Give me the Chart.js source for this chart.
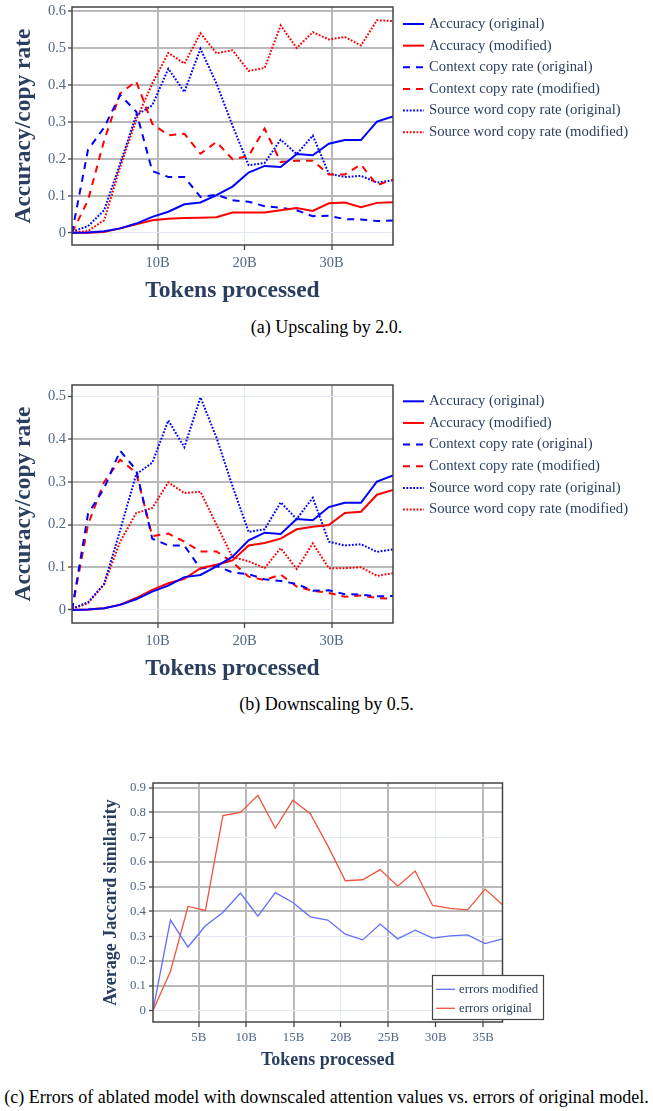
<!DOCTYPE html>
<html>
<head>
<meta charset="utf-8">
<script src="https://cdn.jsdelivr.net/npm/chart.js@4.4.0/dist/chart.umd.min.js"></script>
<style>
  body { margin: 0; background: #fff; }
  #page { position: relative; width: 653px; height: 1111px; font-family: 'Liberation Serif', 'Times New Roman', serif; }
  canvas { position: absolute; left: 0; }
  .cap { position: absolute; left: 0; width: 653px; text-align: center; font-size: 18px; line-height: 20px; color: #000; }
</style>
</head>
<body>
<div id="page">
  <canvas id="up" width="653" height="310" style="top:0px"></canvas>
  <div class="cap" style="top:317px">(a) Upscaling by 2.0.</div>
  <canvas id="down" width="653" height="310" style="top:378px"></canvas>
  <div class="cap" style="top:694px">(b) Downscaling by 0.5.</div>
  <canvas id="jac" width="653" height="305" style="top:770px"></canvas>
  <div class="cap" style="top:1087px">(c) Errors of ablated model with downscaled attention values vs. errors of original model.</div>
</div>
<script>
// checkpoints, in billions of tokens
const tokensB = [0.18, 2.02, 3.87, 5.71, 7.55, 9.40, 11.24, 13.08, 14.93, 16.77, 18.61,
                 20.46, 22.30, 24.14, 25.98, 27.83, 29.67, 31.51, 33.36, 35.20, 37.04];

// original model (same in (a) and (b))
const accOrig = [0, 0.001, 0.004, 0.012, 0.025, 0.043, 0.057, 0.077, 0.082, 0.102, 0.125,
                 0.163, 0.181, 0.178, 0.213, 0.21, 0.241, 0.251, 0.251, 0.301, 0.315];
const ctxOrig = [0, 0.225, 0.285, 0.373, 0.328, 0.167, 0.151, 0.151, 0.097, 0.103, 0.088,
                 0.084, 0.072, 0.068, 0.061, 0.045, 0.046, 0.037, 0.036, 0.032, 0.033];
const srcOrig = [0.003, 0.018, 0.061, 0.187, 0.318, 0.345, 0.444, 0.381, 0.498, 0.404, 0.29,
                 0.183, 0.189, 0.252, 0.213, 0.263, 0.16, 0.151, 0.154, 0.136, 0.142];

// (a) upscaling by 2.0
const accUp = [0, 0, 0.002, 0.012, 0.023, 0.034, 0.038, 0.04, 0.041, 0.042, 0.055,
               0.055, 0.055, 0.061, 0.067, 0.059, 0.08, 0.082, 0.069, 0.081, 0.083];
const ctxUp = [0, 0.088, 0.25, 0.377, 0.41, 0.295, 0.264, 0.268, 0.214, 0.246, 0.199,
               0.208, 0.282, 0.192, 0.195, 0.195, 0.158, 0.158, 0.185, 0.129, 0.144];
const srcUp = [0, 0.005, 0.034, 0.178, 0.305, 0.404, 0.487, 0.458, 0.54, 0.486, 0.494,
               0.438, 0.446, 0.561, 0.5, 0.543, 0.523, 0.53, 0.507, 0.575, 0.573];

// (b) downscaling by 0.5
const accDown = [0, 0.001, 0.004, 0.0125, 0.028, 0.047, 0.0625, 0.073, 0.098, 0.106, 0.116,
                 0.151, 0.157, 0.167, 0.189, 0.195, 0.199, 0.227, 0.23, 0.27, 0.281];
const ctxDown = [0, 0.2, 0.3, 0.352, 0.321, 0.173, 0.179, 0.16, 0.137, 0.137, 0.112,
                 0.078, 0.07, 0.083, 0.055, 0.045, 0.04, 0.031, 0.034, 0.028, 0.026];
const srcDown = [0.002, 0.016, 0.06, 0.16, 0.227, 0.239, 0.299, 0.274, 0.277, 0.2, 0.124,
                 0.114, 0.098, 0.145, 0.096, 0.156, 0.098, 0.098, 0.1, 0.08, 0.086];

// (c) average Jaccard similarity
const errModified = [0, 0.365, 0.256, 0.342, 0.396, 0.474, 0.381, 0.476, 0.436, 0.378, 0.365,
                     0.308, 0.285, 0.349, 0.289, 0.324, 0.292, 0.301, 0.305, 0.27, 0.289];
const errOriginal = [0, 0.157, 0.42, 0.404, 0.787, 0.8, 0.869, 0.736, 0.849, 0.795, 0.666,
                     0.524, 0.528, 0.569, 0.502, 0.563, 0.424, 0.412, 0.406, 0.49, 0.427];

// tick labels
const xTicksAB = [10, 20, 30];
const xTicksC = [5, 10, 15, 20, 25, 30, 35];
const yTicksA = [0, 0.1, 0.2, 0.3, 0.4, 0.5, 0.6];
const yTicksB = [0, 0.1, 0.2, 0.3, 0.4, 0.5];
const yTicksC = [0, 0.1, 0.2, 0.3, 0.4, 0.5, 0.6, 0.7, 0.8, 0.9];

const GRID_GRAY = '#b9b9b9';
const GRID_LIGHT = '#e3e9f2';
const DASH = [7, 6];
const DOT = [1.8, 1.6];

Chart.defaults.font.family = "'Liberation Serif', 'Times New Roman', serif";

function pts(ys) {
  return ys.map((y, i) => ({x: tokensB[i], y: y}));
}

const plotFrame = {
  id: 'plotFrame',
  afterDraw(chart) {
    const {ctx, chartArea: a} = chart;
    ctx.save();
    ctx.strokeStyle = '#444';
    ctx.lineWidth = 1.5;
    ctx.strokeRect(a.left, a.top, a.right - a.left, a.bottom - a.top);
    ctx.restore();
  }
};

const lineKey = {
  id: 'lineKey',
  afterDraw(chart, args, o) {
    const ctx = chart.ctx;
    ctx.save();
    if (o.box) {
      const b = o.box;
      ctx.fillStyle = '#fff';
      ctx.fillRect(b.x, b.y, b.w, b.h);
      ctx.strokeStyle = '#444';
      ctx.lineWidth = 1.2;
      ctx.strokeRect(b.x, b.y, b.w, b.h);
    }
    ctx.font = o.fontSize + "px 'Liberation Serif', 'Times New Roman', serif";
    ctx.textBaseline = 'middle';
    chart.data.datasets.forEach((ds, i) => {
      const y = o.y + i * o.rowH;
      ctx.strokeStyle = ds.borderColor;
      ctx.lineWidth = ds.borderWidth;
      ctx.setLineDash(ds.borderDash || []);
      ctx.beginPath();
      ctx.moveTo(o.x0, y);
      ctx.lineTo(o.x1, y);
      ctx.stroke();
      ctx.setLineDash([]);
      ctx.fillStyle = '#2a3f5f';
      ctx.fillText(ds.label, o.textX, y);
    });
    ctx.restore();
  }
};

function makeChart(id, cfg) {
  const gridColor = light => c => (c.tick && light.includes(c.tick.value)) ? GRID_LIGHT : GRID_GRAY;
  const gridWidth = light => c => (c.tick && light.includes(c.tick.value)) ? 1 : 2;
  return new Chart(document.getElementById(id), {
    type: 'line',
    data: {
      datasets: cfg.series.map(s => ({
        label: s.label,
        data: pts(s.values),
        borderColor: s.color,
        borderWidth: cfg.lineWidth,
        borderDash: s.dash || [],
        pointRadius: 0,
        tension: 0,
        fill: false
      }))
    },
    options: {
      responsive: false,
      animation: false,
      events: [],
      layout: { padding: { top: cfg.area.top, right: 653 - cfg.area.right, left: 0, bottom: 0 } },
      plugins: { legend: { display: false }, tooltip: { enabled: false }, lineKey: cfg.key },
      scales: {
        x: {
          type: 'linear',
          bounds: 'data',
          min: tokensB[0],
          max: tokensB[tokensB.length - 1],
          afterBuildTicks: s => { s.ticks = cfg.xTicks.map(v => ({value: v})); },
          afterFit: s => { s.height = cfg.height - cfg.area.bottom; s.paddingLeft = 0; s.paddingRight = 0; },
          border: { display: false },
          grid: { color: gridColor(cfg.xLight), lineWidth: gridWidth(cfg.xLight), tickColor: '#444', tickLength: 5, tickWidth: 1.3 },
          ticks: { callback: v => v + 'B', color: '#506784', font: { size: cfg.tickSize }, padding: cfg.xTickPad, autoSkip: false, maxRotation: 0 },
          title: { display: true, text: 'Tokens processed', color: '#2a3f5f', font: { size: cfg.titleSize, weight: 'bold' }, padding: { top: 0, bottom: cfg.xTitlePad } }
        },
        y: {
          type: 'linear',
          bounds: 'data',
          min: cfg.yRange[0],
          max: cfg.yRange[1],
          afterBuildTicks: s => { s.ticks = cfg.yTicks.map(v => ({value: v})); },
          afterFit: s => { s.width = cfg.area.left; s.paddingTop = 0; s.paddingBottom = 0; },
          border: { display: false },
          grid: { color: gridColor(cfg.yLight), lineWidth: gridWidth(cfg.yLight), tickColor: '#444', tickLength: 4, tickWidth: 1.3 },
          ticks: { callback: v => v === 0 ? '0' : String(Math.round(v * 10) / 10), color: '#506784', font: { size: cfg.tickSize }, padding: cfg.yTickPad, autoSkip: false },
          title: { display: true, text: cfg.yTitle, color: '#2a3f5f', font: { size: cfg.titleSize, weight: 'bold' }, padding: { top: cfg.yTitlePad, bottom: 0 } }
        }
      }
    },
    plugins: [plotFrame, lineKey]
  });
}

const keyAB = { x0: 403, x1: 424, textX: 429, y: 24, rowH: 21.65, fontSize: 14.7 };

makeChart('up', {
  height: 310, area: { left: 72, top: 7, right: 393, bottom: 245 },
  yRange: [-0.033, 0.611], yTicks: yTicksA, xTicks: xTicksAB, xLight: [20], yLight: [0],
  lineWidth: 2, tickSize: 14.5, titleSize: 23.5, xTickPad: 4, yTickPad: 2, xTitlePad: 5.4, yTitlePad: 9.9,
  yTitle: 'Accuracy/copy rate', key: keyAB,
  series: [
    { label: 'Accuracy (original)', values: accOrig, color: '#0000ff' },
    { label: 'Accuracy (modified)', values: accUp, color: '#ff0000' },
    { label: 'Context copy rate (original)', values: ctxOrig, color: '#0000ff', dash: DASH },
    { label: 'Context copy rate (modified)', values: ctxUp, color: '#ff0000', dash: DASH },
    { label: 'Source word copy rate (original)', values: srcOrig, color: '#0000ff', dash: DOT },
    { label: 'Source word copy rate (modified)', values: srcUp, color: '#ff0000', dash: DOT }
  ]
});

makeChart('down', {
  height: 310, area: { left: 72, top: 7, right: 393, bottom: 245 },
  yRange: [-0.0305, 0.527], yTicks: yTicksB, xTicks: xTicksAB, xLight: [20], yLight: [0, 0.5],
  lineWidth: 2, tickSize: 14.5, titleSize: 23.5, xTickPad: 4, yTickPad: 2, xTitlePad: 5.4, yTitlePad: 9.9,
  yTitle: 'Accuracy/copy rate', key: Object.assign({}, keyAB, { y: 23.3 }),
  series: [
    { label: 'Accuracy (original)', values: accOrig, color: '#0000ff' },
    { label: 'Accuracy (modified)', values: accDown, color: '#ff0000' },
    { label: 'Context copy rate (original)', values: ctxOrig, color: '#0000ff', dash: DASH },
    { label: 'Context copy rate (modified)', values: ctxDown, color: '#ff0000', dash: DASH },
    { label: 'Source word copy rate (original)', values: srcOrig, color: '#0000ff', dash: DOT },
    { label: 'Source word copy rate (modified)', values: srcDown, color: '#ff0000', dash: DOT }
  ]
});

makeChart('jac', {
  height: 305, area: { left: 153, top: 13, right: 502.5, bottom: 252 },
  yRange: [-0.047, 0.919], yTicks: yTicksC, xTicks: xTicksC, xLight: [20, 30], yLight: [0, 0.3, 0.7],
  lineWidth: 1.3, tickSize: 12.8, titleSize: 18, xTickPad: 3, yTickPad: 3, xTitlePad: 4.2, yTitlePad: 100.9,
  yTitle: 'Average Jaccard similarity',
  key: { x0: 436, x1: 455, textX: 459, y: 219.3, rowH: 19, fontSize: 12.8, box: { x: 432.5, y: 205.5, w: 111, h: 44 } },
  series: [
    { label: 'errors modified', values: errModified, color: '#636efa' },
    { label: 'errors original', values: errOriginal, color: '#ef553b' }
  ]
});
</script>
</body>
</html>
